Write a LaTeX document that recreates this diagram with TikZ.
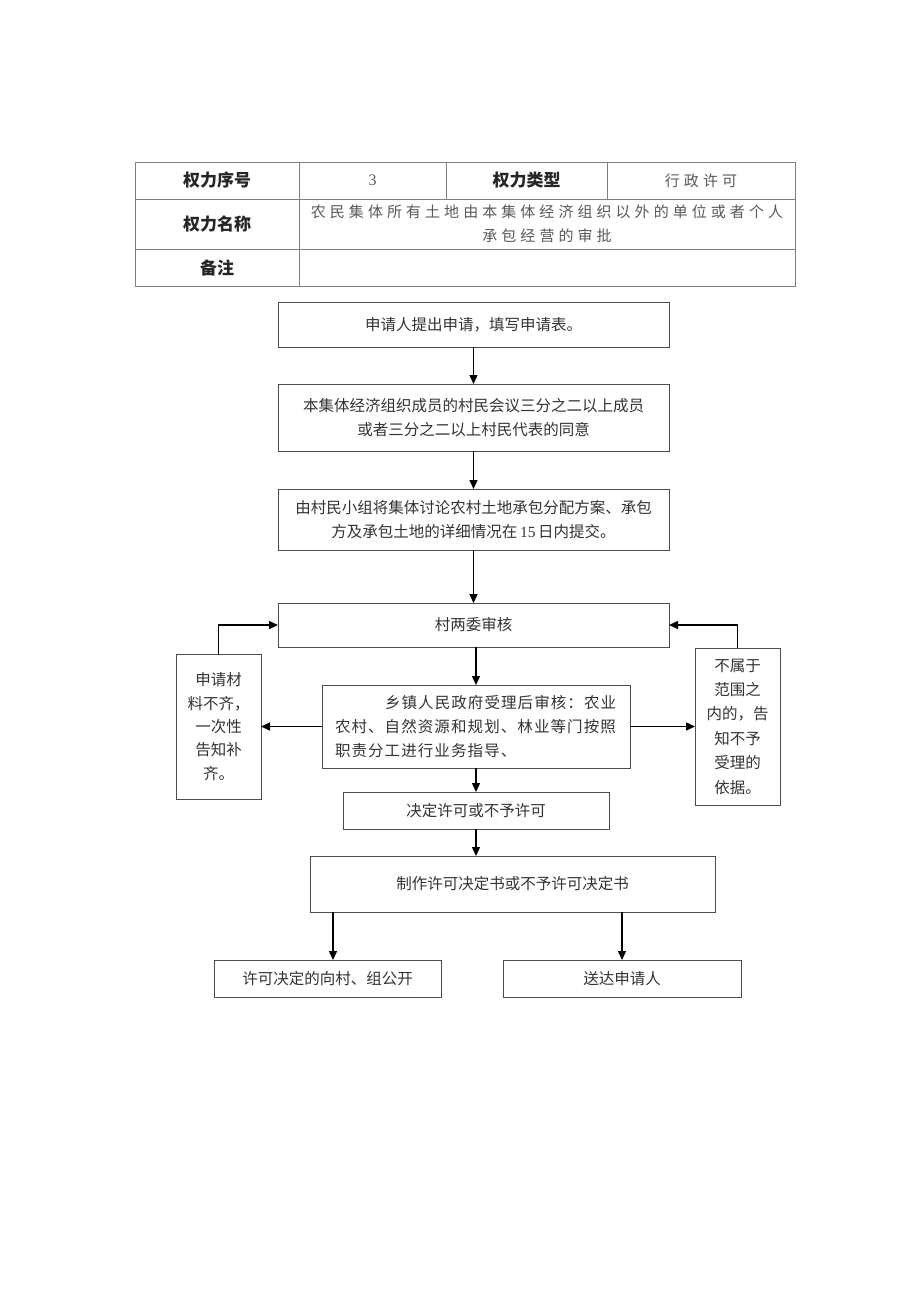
\documentclass[tikz,border=0pt]{standalone}
\usepackage{fontspec}
\setmainfont{Liberation Serif}
\newfontfamily\cjk{Noto Sans CJK SC}
\newfontfamily\cjksp{Noto Sans CJK SC}[LetterSpace=27]
\newfontfamily\cjkwide{Noto Sans CJK SC}[LetterSpace=7]
\usetikzlibrary{arrows.meta}
\definecolor{txt}{HTML}{333333}
\definecolor{bline}{HTML}{4D4D4D}
\definecolor{tline}{HTML}{7F7F7F}
\tikzset{
  cell/.style={draw=tline, line width=0.8pt, inner sep=0pt, outer sep=0pt, align=center, text=txt},
  head/.style={cell, font=\cjk\bfseries\fontsize{17}{20}\selectfont, text=black!85},
  body/.style={cell, font=\cjksp\fontsize{15}{24}\selectfont, text=black!65},
  box/.style={draw=bline, line width=0.9pt, inner sep=0pt, outer sep=0pt, align=center, text=txt, font=\cjk\fontsize{15.5}{24}\selectfont},
  arr/.style={draw=black, line width=1.4pt, -{Triangle[length=9pt,width=8pt]}}
}
\begin{document}
\begin{tikzpicture}[x=1pt,y=-1pt]
\useasboundingbox (0,0) rectangle (920,1301);
\fill[white] (0,0) rectangle (920,1301);
% table
\node[head, minimum width=164pt, minimum height=37pt] (r1c1) at (217,180.5) {权力序号};
\node[body, minimum width=147pt, minimum height=37pt, font=\rmfamily\fontsize{16}{18}\selectfont] (r1c2) at (372.5,180.5) {3};
\node[head, minimum width=161pt, minimum height=37pt] (r1c3) at (526.5,180.5) {权力类型};
\node[body, minimum width=188pt, minimum height=37pt] (r1c4) at (701,180.5) {行政许可};
\node[head, minimum width=164pt, minimum height=50pt] (r2c1) at (217,224) {权力名称};
\node[body, minimum width=496pt, minimum height=50pt] (r2c2) at (547,224) {农民集体所有土地由本集体经济组织以外的单位或者个人\\承包经营的审批};
\node[head, minimum width=164pt, minimum height=37pt] (r3c1) at (217,267.5) {备注};
\node[body, minimum width=496pt, minimum height=37pt] (r3c2) at (547,267.5) {};
% flow
\node[box, minimum width=391pt, minimum height=45pt] (b1) at (473.5,324.5) {申请人提出申请，填写申请表。};
\node[box, minimum width=391pt, minimum height=67pt] (b2) at (473.5,417.5) {本集体经济组织成员的村民会议三分之二以上成员\\或者三分之二以上村民代表的同意};
\node[box, minimum width=391pt, minimum height=61pt] (b3) at (473.5,519.5) {由村民小组将集体讨论农村土地承包分配方案、承包\\方及承包土地的详细情况在{\rmfamily\,15\,}日内提交。};
\node[box, minimum width=391pt, minimum height=44pt] (b4) at (473.5,625) {村两委审核};
\node[box, minimum width=308pt, minimum height=83pt, align=left, text width=282pt, inner xsep=13pt, font=\cjkwide\fontsize{15.5}{24}\selectfont] (b5) at (476,726.5) {\hspace*{50pt}乡镇人民政府受理后审核：农业\\农村、自然资源和规划、林业等门按照\\职责分工进行业务指导、};
\node[box, minimum width=266pt, minimum height=37pt] (b6) at (476,810.5) {决定许可或不予许可};
\node[box, minimum width=405pt, minimum height=56pt] (b7) at (512.5,884) {制作许可决定书或不予许可决定书};
\node[box, minimum width=227pt, minimum height=37pt] (b8) at (327.5,978.5) {许可决定的向村、组公开};
\node[box, minimum width=238pt, minimum height=37pt] (b9) at (622,978.5) {送达申请人};
\node[box, minimum width=85pt, minimum height=145pt, font=\cjk\fontsize{15.5}{23.3}\selectfont] (L) at (218.5,726.5) {申请材\\料不齐，\\一次性\\告知补\\齐。};
\node[box, minimum width=85pt, minimum height=157pt, font=\cjk\fontsize{15.5}{24.4}\selectfont] (R) at (737.5,726.5) {不属于\\范围之\\内的，告\\知不予\\受理的\\依据。};
% connectors
\draw[arr] (b1.south) -- (b2.north);
\draw[arr] (b2.south) -- (b3.north);
\draw[arr] (b3.south) -- (b4.north);
\draw[arr] (b4.south -| b5.north) -- (b5.north);
\draw[arr] (b5.south) -- (b5.south |- b6.north);
\draw[arr] (b6.south) -- (b6.south |- b7.north);
\coordinate (s8) at ([xshift=23pt]b7.south west);
\draw[arr] (s8) -- (s8 |- b8.north);
\draw[arr] (b9.north |- b7.south) -- (b9.north);
\draw[arr] (b5.west) -- (L.east);
\draw[arr] (L.north) |- (b4.west);
\draw[arr] (b5.east) -- (R.west);
\draw[arr] (R.north) |- (b4.east);
\end{tikzpicture}
\end{document}
